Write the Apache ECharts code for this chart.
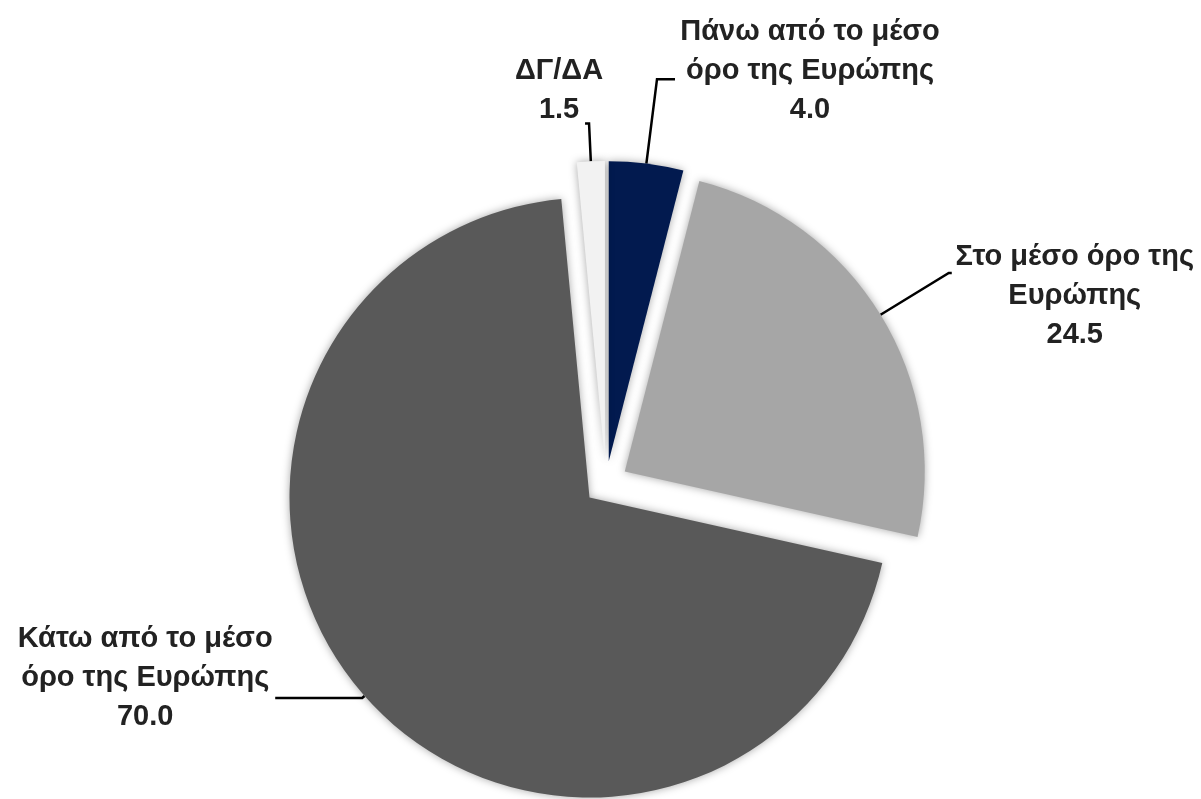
<!DOCTYPE html>
<html>
<head>
<meta charset="utf-8">
<script src="https://cdn.jsdelivr.net/npm/echarts@6/dist/echarts.min.js"></script>
<style>
  html, body { margin: 0; padding: 0; background: #fff; }
  #chart { width: 1201px; height: 799px; }
</style>
</head>
<body>
<div id="chart"></div>
<script>
// data, clockwise from 12 o'clock
const categories = [
  'Πάνω από το μέσο όρο της Ευρώπης',
  'Στο μέσο όρο της Ευρώπης',
  'Κάτω από το μέσο όρο της Ευρώπης',
  'ΔΓ/ΔΑ'
]
const labelLines = [
  ['Πάνω από το μέσο', 'όρο της Ευρώπης'],
  ['Στο μέσο όρο της', 'Ευρώπης'],
  ['Κάτω από το μέσο', 'όρο της Ευρώπης'],
  ['ΔΓ/ΔΑ']
]
const values = [4.0, 24.5, 70.0, 1.5]

const colors = ['#021a4f', '#a6a6a6', '#595959', '#f2f2f2']
// label placement tweaks per slice
const labelTweaks = [
  { len: 85, len2: 18, width: 260, padding: [0, 0, 17, 0] },
  { len: 80, len2: 3, width: 236, padding: [46, 0, 0, 0] },
  { len: 3, len2: 87, width: 250, padding: [0, 0, 40, 0] },
  { len: 38, len2: 4, width: 42, padding: [0, 0, 66, 0] }
]

const font = "'Liberation Sans', Arial, sans-serif"
const textStyle = {
  color: '#222222',
  fontFamily: font,
  fontWeight: 'bold',
  fontSize: 29,
  lineHeight: 39,
  align: 'center',
  overflow: 'none'
}

const chart = echarts.init(document.getElementById('chart'))

const option = {
  backgroundColor: '#ffffff',
  animation: false,
  series: [
    {
      type: 'pie',
      center: [606, 483],
      radius: 300,
      startAngle: 90,
      clockwise: true,
      avoidLabelOverlap: false,
      selectedMode: 'multiple',
      selectedOffset: 22,
      emphasis: { disabled: true },
      itemStyle: {
        borderWidth: 0,
        shadowBlur: 9,
        shadowColor: 'rgba(0,0,0,0.35)'
      },
      label: {
        show: true,
        position: 'outside',
        color: '#222222',
        fontFamily: font,
        fontWeight: 'bold',
        fontSize: 29,
        lineHeight: 39,
        overflow: 'none',
        formatter: (p) => {
          const lines = labelLines[p.dataIndex].map(l => '{a|' + l + '}')
          lines.push('{a|' + p.value.toFixed(1) + '}')
          return lines.join('\n')
        },
        rich: { a: textStyle }
      },
      labelLine: {
        show: true,
        lineStyle: { color: '#000', width: 2.5 }
      },
      data: categories.map((name, i) => ({
        name,
        value: values[i],
        selected: true,
        itemStyle: { color: colors[i] },
        label: { width: labelTweaks[i].width, padding: labelTweaks[i].padding },
        labelLine: { length: labelTweaks[i].len, length2: labelTweaks[i].len2 }
      }))
    }
  ]
}

chart.setOption(option)
</script>
</body>
</html>
